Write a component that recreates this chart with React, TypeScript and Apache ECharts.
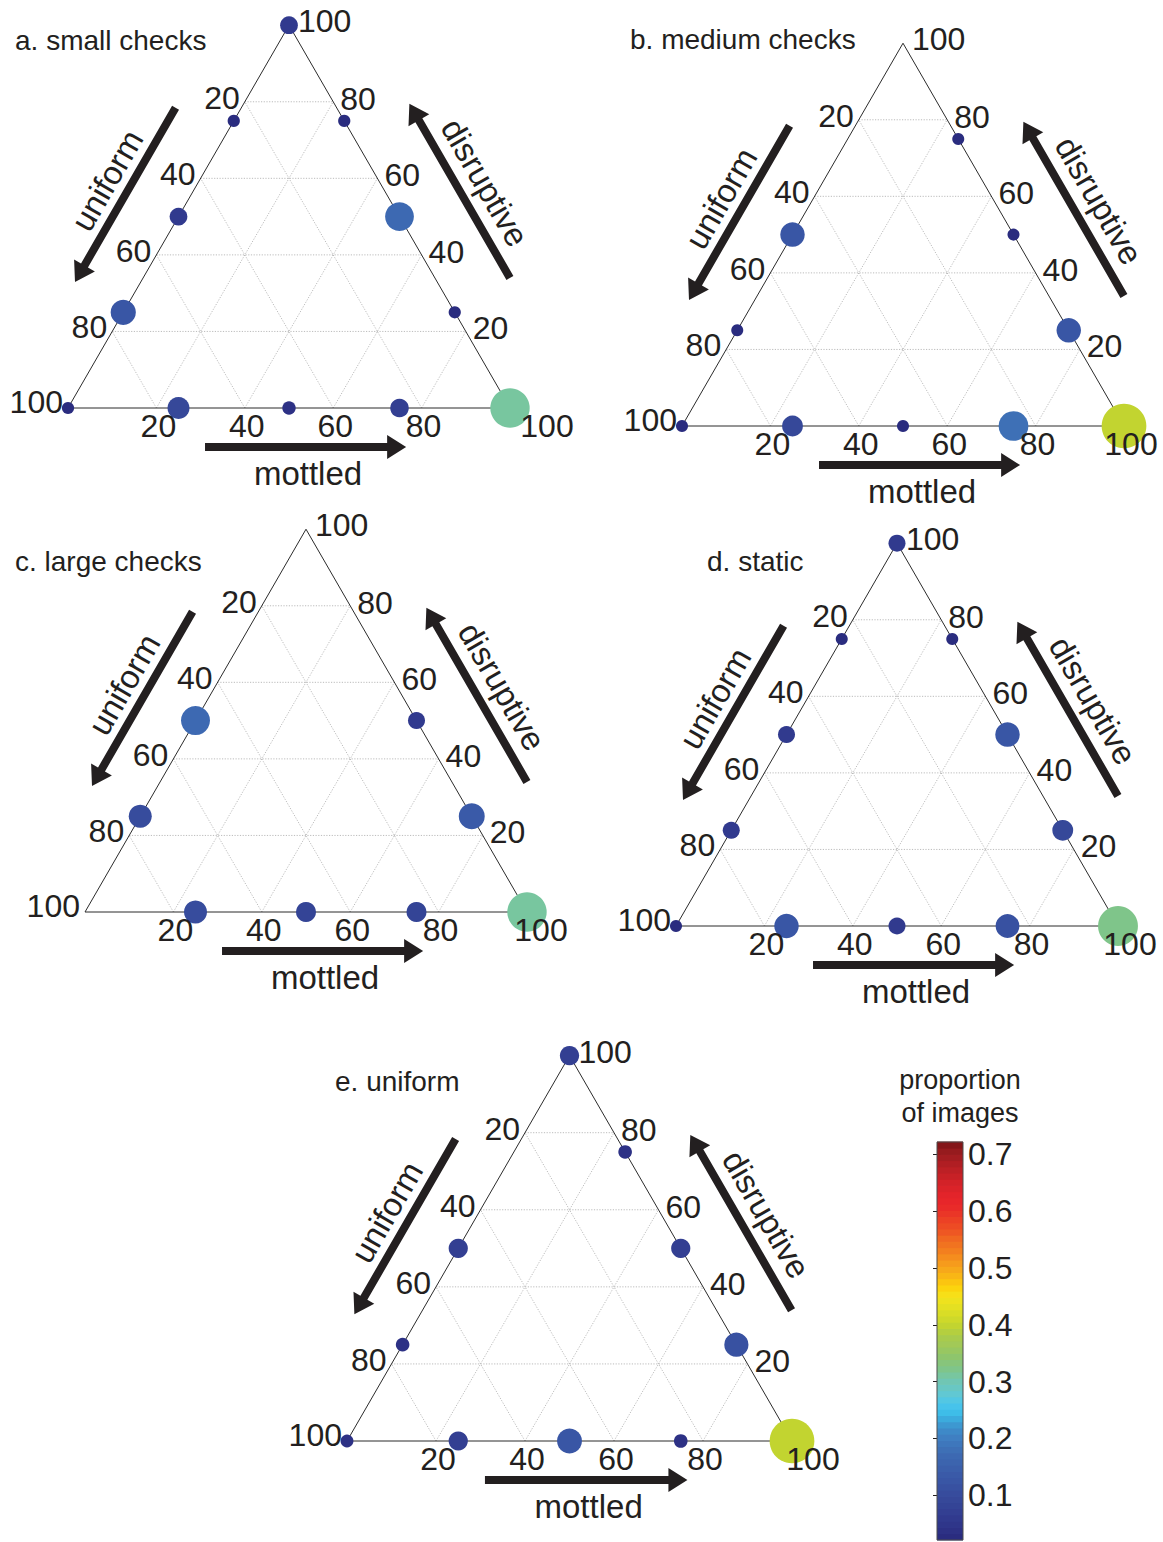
import React, { useEffect, useRef } from "react";
import * as echarts from "echarts";

const SIN60 = Math.sqrt(3) / 2;
const FONT = '"Liberation Sans", Arial, Helvetica, sans-serif';
const INK = "#231f20";

// 12 possible compositions (percent) on the triangle edges
const uniformPct = [100, 75, 50, 25, 0, 0, 0, 0, 0, 25, 50, 75];
const mottledPct = [0, 25, 50, 75, 100, 75, 50, 25, 0, 0, 0, 0];
const disruptivePct = [0, 0, 0, 0, 0, 25, 50, 75, 100, 75, 50, 25];

// proportion of images for each composition (null = no point)
const propSmallChecks = [0.03, 0.097, 0.036, 0.069, 0.31, 0.03, 0.166, 0.03, 0.063, 0.03, 0.063, 0.127];
const propMediumChecks = [0.029, 0.087, 0.029, 0.177, 0.4, 0.12, 0.029, 0.029, null, null, 0.12, 0.029];
const propLargeChecks = [null, 0.106, 0.08, 0.08, 0.31, 0.135, 0.058, null, null, null, 0.168, 0.106];
const propStatic = [0.029, 0.12, 0.058, 0.113, 0.318, 0.087, 0.12, 0.029, 0.058, 0.029, 0.058, 0.058];
const propUniform = [0.033, 0.074, 0.124, 0.037, 0.4, 0.117, 0.074, 0.037, 0.074, null, 0.074, 0.037];

const panelTitles = ["a. small checks", "b. medium checks", "c. large checks", "d. static", "e. uniform"];
const axisNames = ["uniform", "mottled", "disruptive"];

const gridTicks = [20, 40, 60, 80];
const tickValues = [20, 40, 60, 80, 100];
const tickLabels = ["20", "40", "60", "80", "100"];

const colorbarTitle = ["proportion", "of images"];
const colorbarTicks = [0.1, 0.2, 0.3, 0.4, 0.5, 0.6, 0.7];
const colorbarMin = 0.021;
const colorbarMax = 0.722;
const colorbarLevels = 64;

// colormap samples (value -> colour)
const cmapStops = [0.021, 0.032, 0.056, 0.079, 0.103, 0.126, 0.15, 0.173, 0.197, 0.218, 0.232, 0.247, 0.262, 0.279, 0.303, 0.32, 0.344, 0.367, 0.379, 0.4, 0.414, 0.432, 0.45, 0.467, 0.479, 0.497, 0.509, 0.526, 0.55, 0.567, 0.591, 0.611, 0.626, 0.65, 0.679, 0.703, 0.722];
const cmapColors = ["#29297b", "#2c2f83", "#31398d", "#344395", "#374c9d", "#3956a5", "#3b60ac", "#3d6bb3", "#3f7bbf", "#3e8ecb", "#3ca7da", "#3ebfea", "#4cc6eb", "#62c8d2", "#72c6b0", "#7ec58d", "#8ec56c", "#a3c956", "#a9cb4b", "#c3d42f", "#d3db28", "#e4e022", "#f5e31b", "#fcd10c", "#fbc012", "#f7a91a", "#f69a1c", "#f4841f", "#f06a21", "#ee5223", "#eb3b26", "#e9272a", "#e5242a", "#d42228", "#b51f24", "#9a1c1f", "#7b1416"];

// layout of the five panels (page pixels)
const panelLayout = [
  { values: propSmallChecks, x: 68, y: 408, side: 442, titleX: 15, titleY: 40, bottom100Dx: 37 },
  { values: propMediumChecks, x: 682, y: 426, side: 442, titleX: 630, titleY: 39, bottom100Dx: 7 },
  { values: propLargeChecks, x: 85, y: 912, side: 442, titleX: 15, titleY: 561, bottom100Dx: 14 },
  { values: propStatic, x: 676, y: 926, side: 442, titleX: 707, titleY: 561, bottom100Dx: 12 },
  { values: propUniform, x: 347, y: 1441, side: 445, titleX: 335, titleY: 1081, bottom100Dx: 21 },
];

function hexToRgb(h: string) {
  return [parseInt(h.slice(1, 3), 16), parseInt(h.slice(3, 5), 16), parseInt(h.slice(5, 7), 16)];
}
function interpColor(v: number) {
  if (v <= cmapStops[0]) return cmapColors[0];
  for (let i = 1; i < cmapStops.length; i++) {
    if (v <= cmapStops[i]) {
      const t = (v - cmapStops[i - 1]) / (cmapStops[i] - cmapStops[i - 1]);
      const a = hexToRgb(cmapColors[i - 1]);
      const b = hexToRgb(cmapColors[i]);
      const c = a.map((x, k) => Math.round(x + (b[k] - x) * t));
      return `rgb(${c[0]},${c[1]},${c[2]})`;
    }
  }
  return cmapColors[cmapColors.length - 1];
}
function colorFor(v: number) {
  const step = (colorbarMax - colorbarMin) / colorbarLevels;
  let lvl = Math.floor((v - colorbarMin) / step);
  lvl = Math.max(0, Math.min(colorbarLevels - 1, lvl));
  return interpColor(colorbarMin + (lvl + 0.5) * step);
}

function toXY(u: number, m: number, d: number) {
  return [m + d / 2, d * SIN60];
}

function arrowPoints(p0: number[], p1: number[]) {
  const dx = p1[0] - p0[0];
  const dy = p1[1] - p0[1];
  const len = Math.hypot(dx, dy);
  const ux = dx / len, uy = dy / len;
  const nx = -uy, ny = ux;
  const hl = 19, hw = 12, sw = 4;
  const bx = p1[0] - ux * hl, by = p1[1] - uy * hl;
  return [
    [p0[0] + nx * sw, p0[1] + ny * sw],
    [bx + nx * sw, by + ny * sw],
    [bx + nx * hw, by + ny * hw],
    [p1[0], p1[1]],
    [bx - nx * hw, by - ny * hw],
    [bx - nx * sw, by - ny * sw],
    [p0[0] - nx * sw, p0[1] - ny * sw],
  ];
}

function segRender(stroke: string, width: number, dash: number[] | null) {
  return (params: any, api: any) => {
    const p1 = api.coord([api.value(0), api.value(1)]);
    const p2 = api.coord([api.value(2), api.value(3)]);
    return {
      type: "line",
      shape: { x1: p1[0], y1: p1[1], x2: p2[0], y2: p2[1] },
      style: { stroke, lineWidth: width, lineDash: dash || undefined },
    };
  };
}

function buildOption() {
  const grids: any[] = [];
  const xAxes: any[] = [];
  const yAxes: any[] = [];
  const series: any[] = [];
  const graphics: any[] = [];

  panelLayout.forEach((p, i) => {
    const h = p.side * SIN60;
    grids.push({ left: p.x, top: p.y - h, width: p.side, height: h });
    xAxes.push({ gridIndex: i, type: "value", min: 0, max: 100, show: false });
    yAxes.push({ gridIndex: i, type: "value", min: 0, max: 100 * SIN60, show: false });

    const segs: number[][] = [];
    gridTicks.forEach((k) => {
      segs.push([...toXY(100 - k, 0, k), ...toXY(0, 100 - k, k)]);
      segs.push([...toXY(100 - k, k, 0), ...toXY(0, k, 100 - k)]);
      segs.push([...toXY(k, 100 - k, 0), ...toXY(k, 0, 100 - k)]);
    });
    series.push({
      type: "custom", xAxisIndex: i, yAxisIndex: i, silent: true, z: 1,
      data: segs, renderItem: segRender("#b4b4b4", 0.9, [1.2, 1.5]),
    });
    const edges = [
      [...toXY(100, 0, 0), ...toXY(0, 100, 0)],
      [...toXY(0, 100, 0), ...toXY(0, 0, 100)],
      [...toXY(0, 0, 100), ...toXY(100, 0, 0)],
    ];
    series.push({
      type: "custom", xAxisIndex: i, yAxisIndex: i, silent: true, z: 2,
      data: edges, renderItem: segRender("#2b2b2b", 1, null),
    });

    const pts: number[][] = [];
    p.values.forEach((v, k) => {
      if (v == null) return;
      const xy = toXY(uniformPct[k], mottledPct[k], disruptivePct[k]);
      pts.push([xy[0], xy[1], v]);
    });
    series.push({
      type: "scatter", xAxisIndex: i, yAxisIndex: i, z: 3, silent: true,
      data: pts,
      symbolSize: (val: number[]) => 70.7 * Math.sqrt(val[2]),
      itemStyle: { color: (prm: any) => colorFor(prm.value[2]), opacity: 1 },
    });

    const labelData: number[][] = [];
    tickValues.forEach((t, j) => {
      const b = toXY(100 - t, t, 0);
      labelData.push([b[0], b[1], j, t === 100 ? 4 : 0]);
      const l = toXY(t, 0, 100 - t);
      labelData.push([l[0], l[1], j, 1]);
      const r = toXY(0, 100 - t, t);
      labelData.push([r[0], r[1], j, t === 100 ? 3 : 2]);
    });
    const dx100 = p.bottom100Dx;
    series.push({
      type: "custom", xAxisIndex: i, yAxisIndex: i, silent: true, z: 4,
      data: labelData,
      renderItem: (params: any, api: any) => {
        const c = api.coord([api.value(0), api.value(1)]);
        const j = api.value(2);
        const kind = api.value(3);
        let x = c[0], y = c[1];
        let align = "center";
        if (kind === 0) { x += 2; y += 18; }
        else if (kind === 4) { x += dx100; y += 18; }
        else if (kind === 1) { x -= 5; y -= j === 4 ? 6 : 4; align = "right"; }
        else if (kind === 2) { x += 7; y -= 3; align = "left"; }
        else { x += 9; y -= 4; align = "left"; }
        return {
          type: "text", x, y,
          style: { text: tickLabels[j], fontSize: 32, fontFamily: FONT, fill: INK, align, verticalAlign: "middle" },
        };
      },
    });

    series.push({
      type: "custom", xAxisIndex: i, yAxisIndex: i, silent: true, z: 4,
      data: [[0, 0]],
      renderItem: (params: any, api: any) => {
        const L = api.coord([0, 0]);
        const R = api.coord([100, 0]);
        const s = R[0] - L[0];
        const eL = [0.5, -SIN60], nL = [-SIN60, -0.5];
        const eR = [-0.5, -SIN60], nR = [SIN60, -0.5];
        const at = (P: number[], e: number[], n: number[], a: number, b: number) => [P[0] + e[0] * a + n[0] * b, P[1] + e[1] * a + n[1] * b];
        const arrow = (p0: number[], p1: number[]) => ({
          type: "polygon", shape: { points: arrowPoints(p0, p1) }, style: { fill: INK },
        });
        const label = (text: string, pos: number[], rot: number) => ({
          type: "text", x: pos[0], y: pos[1], rotation: rot,
          style: { text, fontSize: 33, fontFamily: FONT, fill: INK, align: "center", verticalAlign: "middle" },
        });
        return {
          type: "group",
          children: [
            arrow(at(L, eL, nL, 0.71 * s, 57), at(L, eL, nL, 0.255 * s, 57)),
            arrow(at(R, eR, nR, 0.255 * s, 65), at(R, eR, nR, 0.71 * s, 65)),
            arrow([L[0] + 0.31 * s, L[1] + 39], [L[0] + 0.765 * s, L[1] + 39]),
            label(axisNames[0], at(L, eL, nL, 0.49 * s, 80), Math.PI / 3),
            label(axisNames[2], at(R, eR, nR, 0.47 * s, 91), -Math.PI / 3),
            label(axisNames[1], [L[0] + 0.543 * s, L[1] + 65], 0),
          ],
        };
      },
    });

    graphics.push({
      type: "text", x: p.titleX, y: p.titleY, silent: true,
      style: { text: panelTitles[i], fontSize: 28, fontFamily: FONT, fill: INK, align: "left", verticalAlign: "middle", textAlign: "left", textVerticalAlign: "middle" },
    });
  });

  // colorbar
  const cbIdx = panelLayout.length;
  grids.push({ left: 937, top: 1142, width: 26, height: 398 });
  xAxes.push({ gridIndex: cbIdx, type: "value", min: 0, max: 1, show: false });
  const tickCommon = { show: true, inside: true, length: 4, customValues: colorbarTicks, lineStyle: { color: INK, width: 1 } };
  yAxes.push({
    gridIndex: cbIdx, type: "value", position: "right", min: colorbarMin, max: colorbarMax,
    axisLine: { show: false }, splitLine: { show: false },
    axisTick: tickCommon,
    axisLabel: {
      customValues: colorbarTicks, formatter: (v: number) => v.toFixed(1),
      fontSize: 32, fontFamily: FONT, color: INK, margin: 5,
    },
  });
  yAxes.push({
    gridIndex: cbIdx, type: "value", position: "left", min: colorbarMin, max: colorbarMax,
    axisLine: { show: false }, splitLine: { show: false },
    axisTick: tickCommon, axisLabel: { show: false },
  });
  const levelData: number[][] = [];
  const step = (colorbarMax - colorbarMin) / colorbarLevels;
  for (let k = 0; k < colorbarLevels; k++) levelData.push([0, colorbarMin + k * step, k]);
  levelData.push([0, colorbarMin, -1]);
  series.push({
    type: "custom", xAxisIndex: cbIdx, yAxisIndex: cbIdx, silent: true, z: 2,
    data: levelData,
    renderItem: (params: any, api: any) => {
      const k = api.value(2);
      if (k < 0) {
        const a = api.coord([0, colorbarMax]);
        const b = api.coord([1, colorbarMin]);
        return { type: "rect", shape: { x: a[0], y: a[1], width: b[0] - a[0], height: b[1] - a[1] }, style: { fill: "none", stroke: "#4d4d4d", lineWidth: 1 }, z2: 10 };
      }
      const y0 = colorbarMin + k * step;
      const a = api.coord([0, y0 + step]);
      const b = api.coord([1, y0]);
      return {
        type: "rect",
        shape: { x: a[0], y: a[1] - 0.4, width: b[0] - a[0], height: b[1] - a[1] + 0.8 },
        style: { fill: interpColor(y0 + step / 2) },
      };
    },
  });

  graphics.push({
    type: "text", x: 960, y: 1080, silent: true,
    style: { text: colorbarTitle[0], fontSize: 27, fontFamily: FONT, fill: INK, align: "center", verticalAlign: "middle", textAlign: "center", textVerticalAlign: "middle" },
  });
  graphics.push({
    type: "text", x: 960, y: 1113, silent: true,
    style: { text: colorbarTitle[1], fontSize: 27, fontFamily: FONT, fill: INK, align: "center", verticalAlign: "middle", textAlign: "center", textVerticalAlign: "middle" },
  });

  return {
    animation: false,
    backgroundColor: "#ffffff",
    grid: grids,
    xAxis: xAxes,
    yAxis: yAxes,
    series,
    graphic: graphics,
  };
}

export default function App() {
  const ref = useRef<HTMLDivElement>(null);
  useEffect(() => {
    if (!ref.current) return;
    const chart = echarts.init(ref.current, null, { renderer: "svg" });
    chart.setOption(buildOption() as any);
    return () => chart.dispose();
  }, []);
  return <div ref={ref} style={{ position: "absolute", left: 0, top: 0, width: 1163, height: 1542, background: "#fff" }} />;
}
